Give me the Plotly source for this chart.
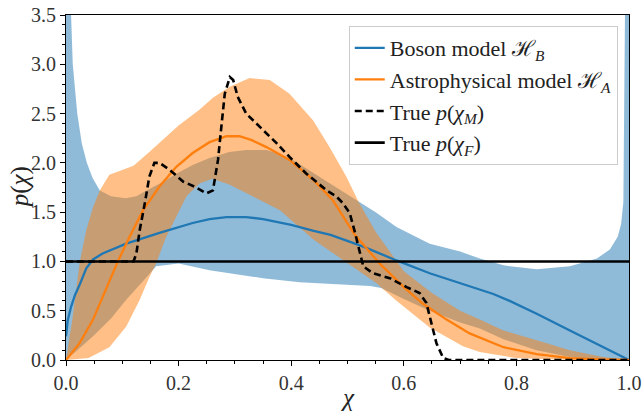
import plotly.graph_objects as go

# ---- data ----
boson_hi_x = [0, 0.003, 0.006, 0.009, 0.012, 0.02, 0.028, 0.037, 0.047, 0.06, 0.08, 0.106, 0.125, 0.143,
              0.17, 0.196, 0.226, 0.255, 0.29, 0.32, 0.356, 0.38, 0.403, 0.45, 0.498, 0.55, 0.587, 0.646,
              0.7, 0.735, 0.777, 0.836, 0.895, 0.943, 0.966, 0.98, 0.986, 0.99, 0.993, 1.0]
boson_hi_y = [8.0, 5.5, 4.2, 3.5, 3.0, 2.5, 2.2, 2.0, 1.85, 1.72, 1.66, 1.64, 1.66, 1.72,
              1.8, 1.89, 1.98, 2.05, 2.11, 2.13, 2.13, 2.09, 2.03, 1.86, 1.69, 1.5, 1.35, 1.18,
              1.1, 1.03, 0.96, 0.92, 0.95, 1.03, 1.12, 1.25, 1.38, 1.6, 3.6, 10.0]

boson_lo_x = [0, 0.02, 0.048, 0.08, 0.107, 0.143, 0.16, 0.2, 0.255, 0.3, 0.35, 0.415, 0.469, 0.54,
              0.56, 0.6, 0.646, 0.7, 0.735, 0.777, 0.836, 0.895, 0.95, 1.0]
boson_lo_y = [0, 0.1, 0.24, 0.42, 0.61, 0.84, 0.95, 0.98, 0.91, 0.87, 0.83, 0.79, 0.77, 0.75,
              0.73, 0.62, 0.5, 0.38, 0.32, 0.21, 0.1, 0.03, 0.0, 0.0]

boson_x = [0, 0.003, 0.009, 0.016, 0.024, 0.036, 0.048, 0.065, 0.107, 0.166, 0.225, 0.255, 0.285, 0.32,
           0.35, 0.4, 0.44, 0.47, 0.528, 0.587, 0.646, 0.7, 0.735, 0.759, 0.788, 0.836, 0.895, 0.954, 1.0]
boson_y = [0.24, 0.40, 0.54, 0.66, 0.76, 0.93, 1.02, 1.08, 1.18, 1.29, 1.39, 1.43, 1.45, 1.45,
           1.43, 1.37, 1.31, 1.27, 1.15, 1.01, 0.88, 0.78, 0.72, 0.67, 0.6, 0.47, 0.30, 0.13, 0.0]

astro_hi_x = [0, 0.012, 0.024, 0.036, 0.048, 0.06, 0.077, 0.1, 0.12, 0.15, 0.2, 0.237, 0.261, 0.29,
              0.326, 0.362, 0.397, 0.439, 0.468, 0.498, 0.52, 0.55, 0.6, 0.65, 0.7, 0.735, 0.777,
              0.836, 0.895, 0.954, 1.0]
astro_hi_y = [0, 0.44, 0.98, 1.32, 1.55, 1.72, 1.88, 1.93, 1.97, 2.12, 2.38, 2.54, 2.66, 2.77,
              2.86, 2.84, 2.70, 2.43, 2.16, 1.86, 1.6, 1.3, 0.9, 0.68, 0.5, 0.41, 0.3,
              0.2, 0.1, 0.03, 0.0]

astro_lo_x = [0, 0.04, 0.077, 0.107, 0.131, 0.148, 0.16, 0.178, 0.196, 0.214, 0.237, 0.26, 0.29, 0.32,
              0.38, 0.44, 0.469, 0.51, 0.551, 0.587, 0.646, 0.705, 0.735, 0.8, 0.9, 1.0]
astro_lo_y = [0, 0.02, 0.13, 0.34, 0.61, 0.84, 0.98, 1.25, 1.45, 1.66, 1.79, 1.84, 1.78, 1.69,
              1.52, 1.22, 1.1, 0.94, 0.78, 0.6, 0.33, 0.14, 0.08, 0.02, 0.0, 0.0]

astro_x = [0, 0.024, 0.048, 0.071, 0.092, 0.113, 0.137, 0.166, 0.196, 0.225, 0.255, 0.285, 0.308, 0.33,
           0.356, 0.397, 0.439, 0.474, 0.513, 0.557, 0.6, 0.634, 0.676, 0.717, 0.777, 0.836, 0.895, 0.95, 1.0]
astro_y = [0, 0.17, 0.41, 0.71, 1.0, 1.25, 1.52, 1.76, 1.96, 2.1, 2.21, 2.27, 2.27, 2.23,
           2.16, 2.03, 1.83, 1.62, 1.27, 0.98, 0.74, 0.57, 0.41, 0.27, 0.13, 0.06, 0.02, 0.005, 0]

true_m_x = [0, 0.12, 0.125, 0.131, 0.14, 0.148, 0.157, 0.166, 0.184, 0.208, 0.228, 0.249, 0.261, 0.27,
            0.276, 0.282, 0.291, 0.297, 0.305, 0.32, 0.338, 0.356, 0.374, 0.397, 0.427, 0.463, 0.48,
            0.492, 0.504, 0.513, 0.519, 0.528, 0.545, 0.575, 0.605, 0.628, 0.64, 0.649, 0.658, 0.67,
            0.68, 1.0]
true_m_y = [1.0, 1.0, 1.08, 1.32, 1.59, 1.86, 2.0, 2.0, 1.93, 1.81, 1.76, 1.69, 1.72, 2.03,
            2.37, 2.70, 2.87, 2.84, 2.67, 2.50, 2.40, 2.30, 2.20, 2.06, 1.89, 1.72, 1.66,
            1.59, 1.49, 1.30, 1.15, 0.95, 0.88, 0.83, 0.74, 0.68, 0.58, 0.37, 0.17, 0.02,
            0.0, 0.0]

true_f_x = [0, 1]
true_f_y = [1, 1]

x_ticks = [0.0, 0.2, 0.4, 0.6, 0.8, 1.0]
y_ticks = [0.0, 0.5, 1.0, 1.5, 2.0, 2.5, 3.0, 3.5]

labels = ["Boson model ℋ<sub><i>B</i></sub>",
          "Astrophysical model ℋ<sub><i>A</i></sub>",
          "True <i>p</i>(<i>χ</i><sub><i>M</i></sub>)",
          "True <i>p</i>(<i>χ</i><sub><i>F</i></sub>)"]
x_title = "<i>χ</i>"
y_title = "<i>p</i>(<i>χ</i>)"

BLUE = "#1f77b4"
ORANGE = "#ff7f0e"
FONT = "Liberation Serif, serif"

fig = go.Figure()

def band(xh, yh, xl, yl, color):
    return go.Scatter(x=list(xh) + list(reversed(xl)), y=list(yh) + list(reversed(yl)),
                      fill="toself", fillcolor=color, line=dict(width=0), mode="lines",
                      showlegend=False, hoverinfo="skip")

fig.add_trace(band(boson_hi_x, boson_hi_y, boson_lo_x, boson_lo_y, "rgba(31,119,180,0.5)"))
fig.add_trace(band(astro_hi_x, astro_hi_y, astro_lo_x, astro_lo_y, "rgba(255,127,14,0.5)"))

fig.add_trace(go.Scatter(x=boson_x, y=boson_y, mode="lines", line=dict(color=BLUE, width=2.3),
                         name=labels[0], legendgroup="a"))
fig.add_trace(go.Scatter(x=astro_x, y=astro_y, mode="lines", line=dict(color=ORANGE, width=2.3),
                         name=labels[1], legendgroup="b"))
fig.add_trace(go.Scatter(x=true_m_x, y=true_m_y, mode="lines",
                         line=dict(color="black", width=2.6, dash="7px,4px"),
                         name=labels[2], legendgroup="c"))
fig.add_trace(go.Scatter(x=true_f_x, y=true_f_y, mode="lines", line=dict(color="black", width=2.6),
                         name=labels[3], legendgroup="d"))

axis_common = dict(showgrid=False, zeroline=False, showline=True, linecolor="black", linewidth=1,
                   mirror=True, ticks="outside", ticklen=5, tickwidth=1, tickcolor="black",
                   automargin=False, ticklabeloverflow="allow",
                   tickfont=dict(family=FONT, size=20, color="#333"))

fig.update_xaxes(range=[0, 1], tickvals=x_ticks, ticktext=[f"{v:.1f}" for v in x_ticks],
                 minor=dict(dtick=0.05, ticklen=3, tickcolor="black", ticks="outside"),
                 **axis_common)
fig.update_yaxes(range=[0, 3.5], tickvals=y_ticks, ticktext=[f"{v:.1f}" for v in y_ticks],
                 minor=dict(dtick=0.1, ticklen=3, tickcolor="black", ticks="outside"),
                 **axis_common)

fig.add_annotation(text=x_title, xref="paper", yref="paper", x=0.5, y=-0.108,
                   xanchor="center", yanchor="middle", showarrow=False,
                   font=dict(family=FONT, size=25, color="#222"))
fig.add_annotation(text=y_title, xref="paper", yref="paper", x=-0.082, y=0.5,
                   xanchor="center", yanchor="middle", showarrow=False, textangle=-90,
                   font=dict(family=FONT, size=25, color="#222"))

fig.update_layout(
    width=642, height=412,
    margin=dict(l=66, r=13, t=15, b=52),
    paper_bgcolor="white", plot_bgcolor="white",
    legend=dict(x=0.98, xanchor="right", y=0.968, yanchor="top",
                bgcolor="rgba(255,255,255,0.8)", bordercolor="#cccccc", borderwidth=1,
                font=dict(family=FONT, size=22, color="#222"), tracegroupgap=0),
    showlegend=True,
)

# remove the browser's default 8px body margin so the figure sits at the page origin
fig.write_html("out.html", config={"displayModeBar": False},
               post_script="document.body.style.margin='0';")
